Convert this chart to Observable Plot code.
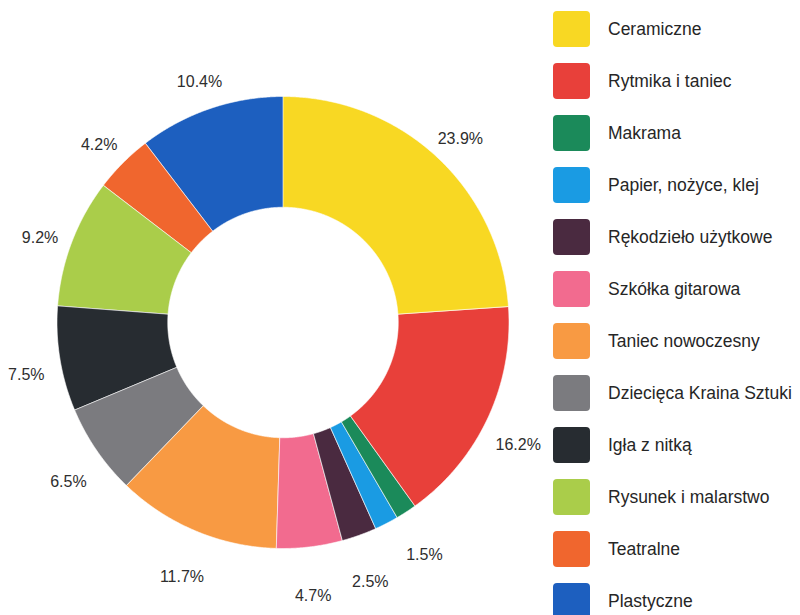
<!DOCTYPE html>
<html>
<head>
<meta charset="utf-8">
<script src="https://cdn.jsdelivr.net/npm/d3@7"></script>
<script src="https://cdn.jsdelivr.net/npm/@observablehq/plot@0.6"></script>
<style>
  body { margin: 0; background: #ffffff; font-family: "Liberation Sans", Arial, sans-serif; }
  #wrap { position: relative; width: 800px; height: 615px; overflow: hidden; }
  #chart { position: absolute; left: 0; top: 0; }
  #legend { position: absolute; left: 553px; top: 11px; display: flex; flex-direction: column; gap: 16px; }
  .item { display: flex; align-items: center; height: 36px; }
  .sw { width: 37px; height: 36px; border-radius: 4px; flex: none; }
  .lb { margin-left: 18px; font-size: 17.5px; color: #262626; white-space: nowrap; }
</style>
</head>
<body>
<div id="wrap"><div id="chart"></div><div id="legend"></div></div>
<script>
const categories = [
  "Ceramiczne", "Rytmika i taniec", "Makrama", "Papier, nożyce, klej",
  "Rękodzieło użytkowe", "Szkółka gitarowa", "Taniec nowoczesny",
  "Dziecięca Kraina Sztuki", "Igła z nitką", "Rysunek i malarstwo",
  "Teatralne", "Plastyczne"
];
const values = [23.9, 16.2, 1.5, 1.7, 2.5, 4.7, 11.7, 6.5, 7.5, 9.2, 4.2, 10.4];
const colors = [
  "#f8d823", "#e8403a", "#1b8a5a", "#1a9be3",
  "#4a2a40", "#f26b8f", "#f89a43",
  "#7b7b7f", "#272c31", "#aacd4a",
  "#f0662e", "#1d5fbf"
];
const hiddenLabels = ["Papier, nożyce, klej"];

const data = categories.map((name, i) => ({ name, value: values[i] }));

// layout (pixels)
const W = 800, H = 615, CX = 282.5, CY = 322, R = 226, INNER = 0.51;

const arcs = d3.pie().sort(null).value(d => d.value)(data);

// slice polygons in unit space (outer radius = 1)
const poly = [];
for (const a of arcs) {
  const n = Math.max(2, Math.ceil((a.endAngle - a.startAngle) / 0.005));
  for (let k = 0; k <= n; k++) {
    const t = a.startAngle + (a.endAngle - a.startAngle) * k / n;
    poly.push({ name: a.data.name, x: Math.sin(t), y: Math.cos(t) });
  }
  for (let k = n; k >= 0; k--) {
    const t = a.startAngle + (a.endAngle - a.startAngle) * k / n;
    poly.push({ name: a.data.name, x: INNER * Math.sin(t), y: INNER * Math.cos(t) });
  }
}

const labels = arcs
  .filter(a => !hiddenLabels.includes(a.data.name))
  .map(a => {
    const m = (a.startAngle + a.endAngle) / 2;
    return {
      x: (260 / R) * Math.sin(m),
      y: -10 / R + (265 / R) * Math.cos(m),
      text: a.data.value.toFixed(1) + "%"
    };
  });

const chart = Plot.plot({
  width: W,
  height: H,
  margin: 0,
  style: { background: "transparent", fontFamily: "Liberation Sans, Arial, sans-serif" },
  x: { domain: [-CX / R, (W - CX) / R], axis: null },
  y: { domain: [-(H - CY) / R, CY / R], axis: null },
  color: { domain: categories, range: colors },
  marks: [
    Plot.line(poly, {
      x: "x", y: "y", z: "name", fill: "name",
      stroke: "#ffffff", strokeWidth: 0.6, curve: "linear-closed"
    }),
    Plot.text(labels, {
      x: "x", y: "y", text: "text",
      fontSize: 16, fill: "#2e2e2e", textAnchor: "middle"
    })
  ]
});
document.getElementById("chart").appendChild(chart);

const legend = document.getElementById("legend");
categories.forEach((name, i) => {
  const it = document.createElement("div");
  it.className = "item";
  const sw = document.createElement("div");
  sw.className = "sw";
  sw.style.background = colors[i];
  const lb = document.createElement("div");
  lb.className = "lb";
  lb.textContent = name;
  it.appendChild(sw);
  it.appendChild(lb);
  legend.appendChild(it);
});
</script>
</body>
</html>
